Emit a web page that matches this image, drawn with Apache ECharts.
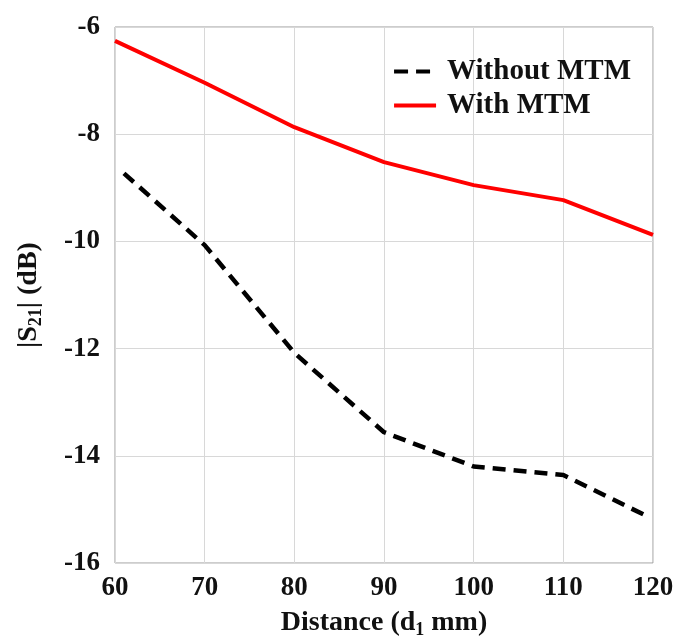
<!DOCTYPE html>
<html>
<head>
<meta charset="utf-8">
<script src="https://cdn.jsdelivr.net/npm/echarts@6/dist/echarts.min.js"></script>
<style>
  html, body { margin: 0; padding: 0; background: #fff; }
  #chart { width: 676px; height: 637px; }
</style>
</head>
<body>
<div id="chart"></div>
<script>
// distance d1 (mm) and |S21| (dB)
const withoutX = [61, 70, 80, 90, 100, 110, 119];
const withoutY = [-8.73, -10.07, -12.08, -13.56, -14.2, -14.36, -15.1];
const withX = [60, 70, 80, 90, 100, 110, 120];
const withY = [-6.26, -7.04, -7.87, -8.52, -8.95, -9.23, -9.88];

const font = 'Liberation Serif';
const pairs = (xs, ys) => xs.map((x, i) => [x, ys[i]]);
const subStyle = { fontFamily: font, fontWeight: 'bold', fontSize: 18, verticalAlign: 'bottom', padding: [14, 0, 0, 0] };

const chart = echarts.init(document.getElementById('chart'));
chart.setOption({
  animation: false,
  grid: {
    left: 115, right: 23, top: 27, bottom: 74, show: true, borderColor: '#9a9a9a', borderWidth: 1,
    outerBoundsMode: 'none', containLabel: false
  },
  legend: {
    right: 40, top: 52, orient: 'vertical', itemWidth: 42, itemHeight: 14, itemGap: 5,
    itemStyle: { opacity: 0 },
    textStyle: { fontFamily: font, fontWeight: 'bold', fontSize: 29, color: '#111', padding: [0, 0, 0, 6] },
    data: [
      { name: 'Without MTM', lineStyle: { type: [14, 8], width: 4 } },
      { name: 'With MTM', lineStyle: { width: 4 } }
    ]
  },
  xAxis: {
    type: 'value', min: 60, max: 120, interval: 10,
    name: 'Distance (d{sub|1} mm)', nameLocation: 'middle', nameGap: 44,
    nameTextStyle: { fontFamily: font, fontWeight: 'bold', fontSize: 28, color: '#111', rich: { sub: subStyle } },
    axisLine: { show: false }, axisTick: { show: false },
    axisLabel: { fontFamily: font, fontWeight: 'bold', fontSize: 27, color: '#111', margin: 12 },
    splitLine: { lineStyle: { color: '#d8d8d8' } }
  },
  yAxis: {
    type: 'value', min: -16, max: -6, interval: 2,
    name: '|S{sub|21}| (dB)', nameLocation: 'middle', nameGap: 70, nameRotate: 90,
    nameTextStyle: { fontFamily: font, fontWeight: 'bold', fontSize: 28, color: '#111', rich: { sub: subStyle } },
    axisLine: { show: false }, axisTick: { show: false },
    axisLabel: { fontFamily: font, fontWeight: 'bold', fontSize: 27, color: '#111', margin: 15 },
    splitLine: { lineStyle: { color: '#d8d8d8' } }
  },
  series: [
    {
      name: 'Without MTM', type: 'line', symbol: 'none', color: '#000',
      lineStyle: { width: 4.5, type: [13, 8], color: '#000' },
      data: pairs(withoutX, withoutY)
    },
    {
      name: 'With MTM', type: 'line', symbol: 'none', color: '#f00',
      lineStyle: { width: 4, color: '#f00' },
      data: pairs(withX, withY)
    }
  ]
});
</script>
</body>
</html>
